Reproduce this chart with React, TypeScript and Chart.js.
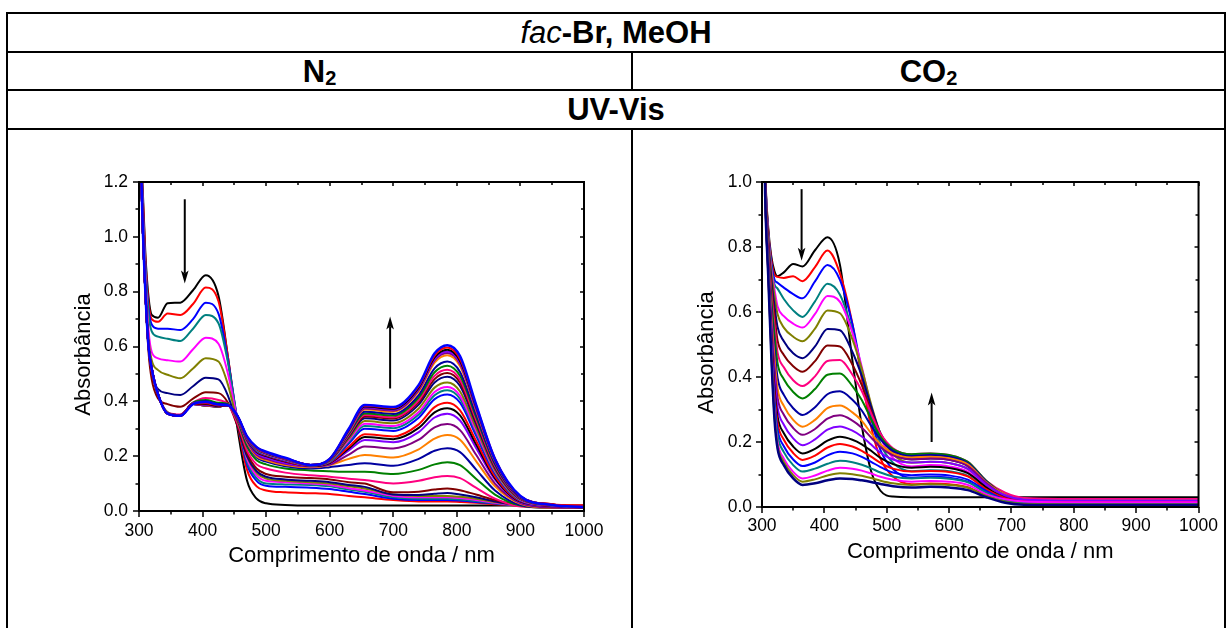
import React, { useEffect, useRef } from "react";
import { Chart, registerables } from "chart.js";

Chart.register(...registerables);

const FONT = "'Liberation Sans', Arial, Helvetica, sans-serif";

// ---------- shared axis ticks ----------
const X_TICKS = [300, 400, 500, 600, 700, 800, 900, 1000];
const N2_Y_TICKS = [0, 0.2, 0.4, 0.6, 0.8, 1.0, 1.2];
const CO2_Y_TICKS = [0, 0.2, 0.4, 0.6, 0.8, 1.0];

// ---------- N2 panel (wavelength / nm) ----------
const N2_WL = [300, 305, 310, 315, 320, 330, 345, 365, 385, 405, 425, 440, 455, 470, 485, 500, 530, 570, 600, 630, 655, 700, 740, 765, 785, 805, 830, 860, 900, 950, 1000];

const N2_01 = [1.6, 1.22, 0.94, 0.78, 0.715, 0.705, 0.758, 0.76, 0.805, 0.86, 0.785, 0.56, 0.30, 0.11, 0.045, 0.028, 0.022, 0.02, 0.02, 0.02, 0.02, 0.02, 0.02, 0.02, 0.02, 0.02, 0.02, 0.02, 0.02, 0.02, 0.02];
const N2_02 = [1.6, 1.2, 0.92, 0.76, 0.70, 0.69, 0.72, 0.715, 0.755, 0.815, 0.765, 0.56, 0.32, 0.15, 0.09, 0.075, 0.068, 0.065, 0.062, 0.055, 0.05, 0.04, 0.035, 0.035, 0.035, 0.033, 0.03, 0.025, 0.02, 0.018, 0.02];
const N2_03 = [1.6, 1.18, 0.9, 0.74, 0.68, 0.665, 0.665, 0.66, 0.70, 0.76, 0.72, 0.55, 0.33, 0.17, 0.11, 0.092, 0.088, 0.085, 0.08, 0.07, 0.062, 0.045, 0.04, 0.04, 0.04, 0.038, 0.033, 0.027, 0.02, 0.015, 0.012];
const N2_04 = [1.6, 1.17, 0.89, 0.72, 0.655, 0.636, 0.628, 0.62, 0.665, 0.715, 0.685, 0.54, 0.33, 0.18, 0.12, 0.10, 0.097, 0.095, 0.09, 0.078, 0.07, 0.05, 0.045, 0.045, 0.045, 0.042, 0.036, 0.028, 0.02, 0.015, 0.012];
const N2_05 = [1.6, 1.15, 0.86, 0.66, 0.58, 0.557, 0.55, 0.545, 0.59, 0.632, 0.61, 0.50, 0.33, 0.19, 0.13, 0.11, 0.105, 0.10, 0.095, 0.083, 0.075, 0.055, 0.05, 0.05, 0.05, 0.047, 0.04, 0.03, 0.02, 0.015, 0.012];
const N2_06 = [1.6, 1.13, 0.84, 0.63, 0.55, 0.514, 0.497, 0.484, 0.52, 0.557, 0.545, 0.46, 0.32, 0.20, 0.14, 0.118, 0.11, 0.105, 0.10, 0.09, 0.082, 0.06, 0.055, 0.055, 0.055, 0.052, 0.045, 0.033, 0.02, 0.014, 0.012];
const N2_07 = [1.6, 1.12, 0.82, 0.60, 0.50, 0.445, 0.43, 0.423, 0.455, 0.486, 0.48, 0.42, 0.31, 0.20, 0.145, 0.125, 0.115, 0.11, 0.105, 0.095, 0.088, 0.06, 0.058, 0.063, 0.066, 0.06, 0.05, 0.035, 0.02, 0.014, 0.012];
const N2_08 = [1.6, 1.1, 0.8, 0.58, 0.48, 0.41, 0.39, 0.38, 0.41, 0.433, 0.43, 0.395, 0.31, 0.21, 0.155, 0.135, 0.125, 0.12, 0.115, 0.105, 0.10, 0.068, 0.07, 0.078, 0.082, 0.076, 0.06, 0.04, 0.02, 0.014, 0.012];
const N2_09 = [1.6, 1.1, 0.8, 0.6, 0.51, 0.425, 0.36, 0.352, 0.395, 0.412, 0.405, 0.39, 0.32, 0.22, 0.17, 0.155, 0.14, 0.13, 0.125, 0.118, 0.113, 0.10, 0.11, 0.123, 0.128, 0.12, 0.085, 0.045, 0.016, 0.012, 0.012];
const N2_10 = [1.6, 1.1, 0.8, 0.6, 0.52, 0.425, 0.36, 0.35, 0.395, 0.405, 0.395, 0.39, 0.33, 0.235, 0.185, 0.17, 0.155, 0.148, 0.145, 0.143, 0.143, 0.135, 0.15, 0.17, 0.178, 0.167, 0.118, 0.06, 0.02, 0.012, 0.012];
const N2_11 = [1.6, 1.1, 0.8, 0.6, 0.52, 0.425, 0.358, 0.35, 0.393, 0.40, 0.39, 0.388, 0.335, 0.245, 0.195, 0.18, 0.163, 0.155, 0.16, 0.168, 0.174, 0.165, 0.19, 0.22, 0.229, 0.215, 0.152, 0.075, 0.022, 0.012, 0.012];
const N2_12 = [1.6, 1.1, 0.8, 0.6, 0.52, 0.425, 0.358, 0.35, 0.392, 0.398, 0.387, 0.387, 0.337, 0.25, 0.20, 0.185, 0.168, 0.16, 0.168, 0.19, 0.204, 0.195, 0.225, 0.264, 0.277, 0.26, 0.183, 0.09, 0.026, 0.012, 0.012];
const N2_13 = [1.6, 1.1, 0.8, 0.6, 0.52, 0.425, 0.357, 0.35, 0.392, 0.396, 0.385, 0.386, 0.338, 0.255, 0.205, 0.19, 0.172, 0.162, 0.169, 0.206, 0.235, 0.228, 0.26, 0.305, 0.317, 0.295, 0.206, 0.10, 0.029, 0.013, 0.012];
const N2_14 = [1.6, 1.1, 0.8, 0.6, 0.52, 0.425, 0.357, 0.35, 0.392, 0.394, 0.384, 0.386, 0.339, 0.258, 0.21, 0.195, 0.175, 0.163, 0.173, 0.221, 0.259, 0.251, 0.288, 0.341, 0.355, 0.33, 0.231, 0.114, 0.032, 0.019, 0.013];
const N2_15 = [1.6, 1.1, 0.8, 0.6, 0.52, 0.425, 0.356, 0.349, 0.391, 0.392, 0.383, 0.386, 0.34, 0.26, 0.215, 0.20, 0.18, 0.164, 0.175, 0.228, 0.27, 0.262, 0.303, 0.36, 0.375, 0.349, 0.244, 0.12, 0.034, 0.019, 0.013];
const N2_16 = [1.6, 1.1, 0.8, 0.6, 0.52, 0.425, 0.356, 0.349, 0.391, 0.39, 0.383, 0.386, 0.341, 0.262, 0.218, 0.203, 0.182, 0.165, 0.177, 0.234, 0.28, 0.272, 0.316, 0.379, 0.395, 0.367, 0.257, 0.126, 0.036, 0.02, 0.014];
const N2_17 = [1.6, 1.1, 0.8, 0.6, 0.52, 0.425, 0.356, 0.348, 0.39, 0.389, 0.382, 0.386, 0.342, 0.263, 0.22, 0.205, 0.184, 0.166, 0.179, 0.246, 0.30, 0.292, 0.34, 0.408, 0.425, 0.395, 0.276, 0.136, 0.038, 0.02, 0.014];
const N2_18 = [1.6, 1.1, 0.8, 0.6, 0.52, 0.425, 0.355, 0.348, 0.39, 0.388, 0.382, 0.386, 0.342, 0.264, 0.222, 0.207, 0.186, 0.166, 0.18, 0.252, 0.31, 0.302, 0.352, 0.422, 0.44, 0.409, 0.286, 0.141, 0.04, 0.02, 0.014];
const N2_19 = [1.6, 1.1, 0.8, 0.6, 0.52, 0.425, 0.355, 0.348, 0.39, 0.387, 0.381, 0.386, 0.343, 0.265, 0.224, 0.208, 0.187, 0.167, 0.182, 0.258, 0.318, 0.31, 0.361, 0.434, 0.452, 0.42, 0.294, 0.145, 0.041, 0.021, 0.014];
const N2_20 = [1.6, 1.1, 0.8, 0.6, 0.52, 0.425, 0.355, 0.347, 0.39, 0.386, 0.381, 0.386, 0.343, 0.266, 0.225, 0.209, 0.188, 0.167, 0.183, 0.264, 0.328, 0.32, 0.374, 0.45, 0.469, 0.436, 0.305, 0.15, 0.042, 0.021, 0.014];
const N2_21 = [1.6, 1.1, 0.8, 0.6, 0.52, 0.425, 0.355, 0.347, 0.39, 0.385, 0.381, 0.386, 0.344, 0.266, 0.226, 0.21, 0.189, 0.167, 0.184, 0.27, 0.338, 0.33, 0.388, 0.469, 0.49, 0.456, 0.319, 0.157, 0.044, 0.022, 0.015];
const N2_22 = [1.6, 1.1, 0.8, 0.6, 0.52, 0.425, 0.355, 0.347, 0.39, 0.385, 0.381, 0.386, 0.344, 0.267, 0.227, 0.211, 0.19, 0.168, 0.186, 0.274, 0.345, 0.337, 0.397, 0.481, 0.503, 0.468, 0.327, 0.161, 0.045, 0.022, 0.015];
const N2_23 = [1.6, 1.1, 0.8, 0.6, 0.52, 0.425, 0.355, 0.347, 0.39, 0.384, 0.381, 0.386, 0.344, 0.267, 0.228, 0.212, 0.19, 0.168, 0.186, 0.277, 0.35, 0.342, 0.404, 0.493, 0.515, 0.479, 0.335, 0.165, 0.046, 0.022, 0.015];
const N2_24 = [1.6, 1.1, 0.8, 0.6, 0.52, 0.425, 0.355, 0.347, 0.39, 0.384, 0.381, 0.386, 0.345, 0.268, 0.229, 0.212, 0.191, 0.168, 0.187, 0.281, 0.356, 0.348, 0.414, 0.506, 0.53, 0.493, 0.345, 0.17, 0.048, 0.023, 0.015];
const N2_25 = [1.6, 1.1, 0.8, 0.6, 0.52, 0.425, 0.355, 0.347, 0.39, 0.384, 0.381, 0.386, 0.345, 0.268, 0.23, 0.213, 0.191, 0.168, 0.187, 0.284, 0.362, 0.354, 0.423, 0.52, 0.545, 0.507, 0.354, 0.174, 0.049, 0.023, 0.015];
const N2_26 = [1.6, 1.1, 0.8, 0.6, 0.52, 0.425, 0.355, 0.347, 0.39, 0.385, 0.382, 0.386, 0.345, 0.269, 0.23, 0.213, 0.192, 0.168, 0.188, 0.288, 0.37, 0.362, 0.436, 0.541, 0.568, 0.528, 0.369, 0.182, 0.051, 0.024, 0.016];
const N2_27 = [1.6, 1.1, 0.8, 0.6, 0.52, 0.425, 0.355, 0.347, 0.39, 0.386, 0.382, 0.386, 0.345, 0.269, 0.231, 0.214, 0.192, 0.168, 0.189, 0.292, 0.374, 0.366, 0.442, 0.549, 0.576, 0.536, 0.374, 0.184, 0.052, 0.024, 0.016];
const N2_28 = [1.6, 1.1, 0.8, 0.6, 0.52, 0.425, 0.355, 0.347, 0.39, 0.388, 0.383, 0.386, 0.346, 0.27, 0.231, 0.214, 0.192, 0.168, 0.189, 0.294, 0.378, 0.37, 0.446, 0.554, 0.582, 0.541, 0.378, 0.186, 0.052, 0.024, 0.016];
const N2_29 = [1.6, 1.1, 0.8, 0.6, 0.52, 0.425, 0.355, 0.347, 0.39, 0.39, 0.384, 0.386, 0.346, 0.27, 0.232, 0.215, 0.193, 0.168, 0.189, 0.296, 0.381, 0.373, 0.45, 0.56, 0.588, 0.547, 0.382, 0.188, 0.053, 0.024, 0.016];
const N2_30 = [1.6, 1.1, 0.8, 0.6, 0.52, 0.425, 0.355, 0.347, 0.39, 0.393, 0.385, 0.386, 0.346, 0.27, 0.232, 0.215, 0.193, 0.168, 0.19, 0.298, 0.384, 0.376, 0.455, 0.567, 0.596, 0.554, 0.387, 0.191, 0.054, 0.025, 0.02];
const N2_31 = [1.6, 1.1, 0.8, 0.6, 0.52, 0.425, 0.355, 0.347, 0.39, 0.398, 0.388, 0.386, 0.347, 0.272, 0.233, 0.216, 0.194, 0.168, 0.19, 0.30, 0.387, 0.379, 0.46, 0.575, 0.605, 0.565, 0.39, 0.19, 0.055, 0.022, 0.015];

// ---------- CO2 panel (wavelength / nm) ----------
const CO2_WL = [300, 305, 310, 315, 320, 325, 335, 350, 365, 385, 405, 425, 445, 460, 475, 490, 510, 540, 570, 600, 630, 660, 690, 720, 800, 900, 1000];

const CO2_01 = [1.6, 1.05, 0.86, 0.77, 0.725, 0.71, 0.722, 0.748, 0.74, 0.79, 0.83, 0.745, 0.45, 0.25, 0.11, 0.05, 0.032, 0.03, 0.03, 0.03, 0.03, 0.03, 0.03, 0.03, 0.03, 0.03, 0.03];
const CO2_02 = [1.6, 1.04, 0.85, 0.76, 0.715, 0.708, 0.705, 0.71, 0.695, 0.738, 0.789, 0.718, 0.563, 0.394, 0.246, 0.149, 0.094, 0.07, 0.072, 0.07, 0.061, 0.035, 0.03, 0.023, 0.022, 0.022, 0.022];
const CO2_03 = [1.6, 1.04, 0.845, 0.75, 0.70, 0.69, 0.675, 0.655, 0.642, 0.694, 0.745, 0.699, 0.562, 0.418, 0.273, 0.175, 0.116, 0.09, 0.093, 0.09, 0.078, 0.045, 0.031, 0.022, 0.02, 0.02, 0.02];
const CO2_04 = [1.6, 1.035, 0.84, 0.74, 0.685, 0.672, 0.64, 0.605, 0.585, 0.633, 0.687, 0.653, 0.541, 0.416, 0.289, 0.194, 0.136, 0.11, 0.113, 0.11, 0.096, 0.055, 0.033, 0.022, 0.02, 0.02, 0.02];
const CO2_05 = [1.6, 1.03, 0.835, 0.73, 0.67, 0.617, 0.587, 0.564, 0.552, 0.594, 0.649, 0.631, 0.536, 0.431, 0.309, 0.215, 0.151, 0.125, 0.129, 0.125, 0.109, 0.063, 0.039, 0.026, 0.024, 0.024, 0.024];
const CO2_06 = [1.6, 1.025, 0.83, 0.72, 0.65, 0.593, 0.552, 0.524, 0.51, 0.549, 0.605, 0.596, 0.516, 0.425, 0.316, 0.225, 0.163, 0.136, 0.139, 0.135, 0.117, 0.068, 0.034, 0.021, 0.018, 0.018, 0.018];
const CO2_07 = [1.6, 1.02, 0.82, 0.70, 0.62, 0.553, 0.51, 0.473, 0.458, 0.494, 0.548, 0.544, 0.477, 0.403, 0.309, 0.227, 0.17, 0.146, 0.149, 0.145, 0.126, 0.073, 0.032, 0.018, 0.015, 0.015, 0.015];
const CO2_08 = [1.6, 1.015, 0.81, 0.68, 0.59, 0.512, 0.468, 0.433, 0.416, 0.449, 0.497, 0.494, 0.438, 0.375, 0.295, 0.225, 0.177, 0.156, 0.16, 0.155, 0.135, 0.078, 0.039, 0.023, 0.02, 0.02, 0.02];
const CO2_09 = [1.6, 1.01, 0.80, 0.66, 0.56, 0.475, 0.43, 0.39, 0.372, 0.402, 0.449, 0.452, 0.407, 0.357, 0.288, 0.226, 0.181, 0.162, 0.165, 0.16, 0.139, 0.08, 0.044, 0.028, 0.025, 0.025, 0.025];
const CO2_10 = [1.6, 1.005, 0.79, 0.64, 0.53, 0.442, 0.393, 0.354, 0.334, 0.363, 0.407, 0.411, 0.372, 0.329, 0.27, 0.216, 0.178, 0.162, 0.165, 0.16, 0.139, 0.08, 0.037, 0.021, 0.018, 0.018, 0.018];
const CO2_11 = [1.6, 1.0, 0.78, 0.61, 0.49, 0.397, 0.345, 0.304, 0.283, 0.307, 0.347, 0.356, 0.33, 0.297, 0.25, 0.208, 0.173, 0.157, 0.16, 0.155, 0.135, 0.078, 0.033, 0.017, 0.014, 0.014, 0.014];
const CO2_12 = [1.6, 0.995, 0.77, 0.59, 0.46, 0.364, 0.311, 0.268, 0.247, 0.268, 0.304, 0.312, 0.291, 0.265, 0.227, 0.193, 0.165, 0.152, 0.155, 0.15, 0.131, 0.075, 0.038, 0.023, 0.02, 0.02, 0.02];
const CO2_13 = [1.6, 0.99, 0.76, 0.57, 0.43, 0.336, 0.284, 0.243, 0.222, 0.24, 0.272, 0.282, 0.266, 0.244, 0.214, 0.184, 0.159, 0.147, 0.149, 0.145, 0.126, 0.073, 0.035, 0.021, 0.018, 0.018, 0.018];
const CO2_14 = [1.6, 0.985, 0.75, 0.55, 0.40, 0.306, 0.253, 0.211, 0.19, 0.208, 0.238, 0.248, 0.235, 0.217, 0.192, 0.167, 0.146, 0.137, 0.139, 0.135, 0.117, 0.068, 0.036, 0.023, 0.02, 0.02, 0.02];
const CO2_15 = [1.6, 0.98, 0.74, 0.53, 0.37, 0.278, 0.227, 0.186, 0.165, 0.179, 0.204, 0.216, 0.207, 0.193, 0.173, 0.151, 0.132, 0.121, 0.124, 0.12, 0.104, 0.06, 0.026, 0.014, 0.012, 0.012, 0.012];
const CO2_16 = [1.6, 0.978, 0.735, 0.51, 0.35, 0.258, 0.207, 0.166, 0.145, 0.158, 0.183, 0.194, 0.186, 0.173, 0.155, 0.136, 0.118, 0.109, 0.111, 0.108, 0.094, 0.054, 0.027, 0.016, 0.014, 0.014, 0.014];
const CO2_17 = [1.6, 0.975, 0.73, 0.50, 0.33, 0.238, 0.187, 0.146, 0.126, 0.137, 0.159, 0.17, 0.165, 0.154, 0.139, 0.123, 0.106, 0.098, 0.10, 0.097, 0.084, 0.049, 0.022, 0.012, 0.01, 0.01, 0.01];
const CO2_18 = [1.6, 0.972, 0.725, 0.49, 0.31, 0.22, 0.169, 0.129, 0.109, 0.118, 0.133, 0.142, 0.138, 0.13, 0.119, 0.106, 0.094, 0.088, 0.09, 0.087, 0.076, 0.044, 0.02, 0.012, 0.01, 0.01, 0.01];
const CO2_19 = [1.6, 0.97, 0.72, 0.48, 0.29, 0.199, 0.149, 0.108, 0.088, 0.097, 0.112, 0.121, 0.118, 0.112, 0.103, 0.093, 0.084, 0.078, 0.08, 0.078, 0.068, 0.039, 0.024, 0.017, 0.015, 0.015, 0.015];
const CO2_20 = [1.6, 0.968, 0.715, 0.47, 0.28, 0.189, 0.139, 0.098, 0.078, 0.085, 0.097, 0.104, 0.101, 0.096, 0.089, 0.081, 0.073, 0.068, 0.07, 0.068, 0.059, 0.034, 0.016, 0.009, 0.008, 0.008, 0.008];
const CO2_21 = [1.6, 0.965, 0.71, 0.46, 0.27, 0.179, 0.129, 0.088, 0.068, 0.073, 0.082, 0.088, 0.086, 0.082, 0.077, 0.071, 0.064, 0.06, 0.062, 0.06, 0.052, 0.03, 0.013, 0.007, 0.006, 0.006, 0.006];

// arrows (wavelength, from absorbance, to absorbance = tip)
const N2_ARROWS = [
  { x: 372, from: 1.137, to: 0.83 },
  { x: 695, from: 0.447, to: 0.709 },
];
const CO2_ARROWS = [
  { x: 363.5, from: 0.978, to: 0.758 },
  { x: 572, from: 0.2, to: 0.352 },
];

const N2_SERIES = [N2_01, N2_02, N2_03, N2_04, N2_05, N2_06, N2_07, N2_08, N2_09, N2_10, N2_11, N2_12, N2_13, N2_14, N2_15, N2_16, N2_17, N2_18, N2_19, N2_20, N2_21, N2_22, N2_23, N2_24, N2_25, N2_26, N2_27, N2_28, N2_29, N2_30, N2_31];
const CO2_SERIES = [CO2_01, CO2_02, CO2_03, CO2_04, CO2_05, CO2_06, CO2_07, CO2_08, CO2_09, CO2_10, CO2_11, CO2_12, CO2_13, CO2_14, CO2_15, CO2_16, CO2_17, CO2_18, CO2_19, CO2_20, CO2_21];

// Origin-like colour cycle
const PALETTE = ["#000000", "#FF0000", "#0000FF", "#008080", "#FF00FF", "#808000", "#000080", "#800000", "#FF0080", "#008000", "#0000A0", "#FF8000", "#800080", "#8000FF"];

type Arrow = { x: number; from: number; to: number };

function buildDatasets(wl: number[], series: number[][]) {
  const n = series.length;
  return series.map((vals, i) => ({
    data: wl.map((x, j) => ({ x, y: vals[j] })),
    borderColor: PALETTE[i % PALETTE.length],
    backgroundColor: PALETTE[i % PALETTE.length],
    borderWidth: i === n - 1 ? 2.5 : 2,
    pointRadius: 0,
    cubicInterpolationMode: "monotone" as const,
    fill: false,
    order: n - i,
  }));
}

function decorPlugin(xTicks: number[], yTicks: number[], arrows: Arrow[]) {
  return {
    id: "decor",
    afterDatasetsDraw(chart: any) {
      const { ctx, chartArea: a, scales } = chart;
      const xs = scales.x;
      const ys = scales.y;
      const xMinor = xTicks.slice(0, -1).map((v, i) => (v + xTicks[i + 1]) / 2);
      const yMinor = yTicks.slice(0, -1).map((v, i) => (v + yTicks[i + 1]) / 2);
      ctx.save();
      ctx.strokeStyle = "#000";
      ctx.fillStyle = "#000";
      ctx.lineWidth = 1.5;
      ctx.beginPath();
      xTicks.forEach((v) => {
        const px = Math.round(xs.getPixelForValue(v));
        ctx.moveTo(px, a.bottom);
        ctx.lineTo(px, a.bottom + 6);
        ctx.moveTo(px, a.top);
        ctx.lineTo(px, a.top + 4);
      });
      xMinor.forEach((v) => {
        const px = Math.round(xs.getPixelForValue(v));
        ctx.moveTo(px, a.bottom);
        ctx.lineTo(px, a.bottom + 3.5);
        ctx.moveTo(px, a.top);
        ctx.lineTo(px, a.top + 3);
      });
      yTicks.forEach((v) => {
        const py = Math.round(ys.getPixelForValue(v));
        ctx.moveTo(a.left, py);
        ctx.lineTo(a.left - 6, py);
        ctx.moveTo(a.right, py);
        ctx.lineTo(a.right - 4, py);
      });
      yMinor.forEach((v) => {
        const py = Math.round(ys.getPixelForValue(v));
        ctx.moveTo(a.left, py);
        ctx.lineTo(a.left - 3.5, py);
        ctx.moveTo(a.right, py);
        ctx.lineTo(a.right - 3, py);
      });
      ctx.stroke();

      ctx.lineWidth = 2;
      ctx.strokeRect(a.left, a.top, a.right - a.left, a.bottom - a.top);

      arrows.forEach((ar) => {
        const px = xs.getPixelForValue(ar.x);
        const p0 = ys.getPixelForValue(ar.from);
        const p1 = ys.getPixelForValue(ar.to);
        const dir = p1 > p0 ? 1 : -1;
        const head = 13;
        ctx.lineWidth = 2;
        ctx.beginPath();
        ctx.moveTo(px, p0);
        ctx.lineTo(px, p1 - dir * (head - 3));
        ctx.stroke();
        ctx.beginPath();
        ctx.moveTo(px, p1);
        ctx.lineTo(px - 3.8, p1 - dir * head);
        ctx.lineTo(px, p1 - dir * (head - 3));
        ctx.lineTo(px + 3.8, p1 - dir * head);
        ctx.closePath();
        ctx.fill();
      });

      ctx.font = `22px ${FONT}`;
      ctx.textAlign = "center";
      ctx.textBaseline = "middle";
      ctx.fillText("Comprimento de onda / nm", (a.left + a.right) / 2, a.bottom + 45);
      ctx.translate(a.left - 55.5, (a.top + a.bottom) / 2 + 8);
      ctx.rotate(-Math.PI / 2);
      ctx.fillText("Absorbância", 0, 0);
      ctx.restore();
    },
  };
}

type PanelProps = {
  left: number;
  top: number;
  width: number;
  height: number;
  wl: number[];
  series: number[][];
  yMax: number;
  yTicks: number[];
  arrows: Arrow[];
  padding: { left: number; right: number; top: number; bottom: number };
  xLabelPad: number;
  yLabelPad: number;
};

function SpectraPanel(p: PanelProps) {
  const ref = useRef<HTMLCanvasElement | null>(null);
  useEffect(() => {
    if (!ref.current) return;
    const tickFont = { family: FONT, size: 17.5 };
    const chart = new Chart(ref.current, {
      type: "line",
      data: { datasets: buildDatasets(p.wl, p.series) as any },
      options: {
        animation: false,
        responsive: false,
        maintainAspectRatio: false,
        events: [],
        layout: { padding: p.padding },
        plugins: { legend: { display: false }, tooltip: { enabled: false }, title: { display: false } },
        scales: {
          x: {
            type: "linear",
            min: 300,
            max: 1000,
            grid: { display: false, drawTicks: false },
            border: { display: false },
            ticks: {
              font: tickFont,
              color: "#000",
              padding: p.xLabelPad,
              maxRotation: 0,
              autoSkip: false,
              callback: (v: any) => String(v),
            },
            afterBuildTicks: (s: any) => {
              s.ticks = X_TICKS.map((value) => ({ value }));
            },
            afterFit: (s: any) => {
              s.height = 60;
            },
          },
          y: {
            type: "linear",
            min: 0,
            max: p.yMax,
            grid: { display: false, drawTicks: false },
            border: { display: false },
            ticks: {
              font: tickFont,
              color: "#000",
              padding: p.yLabelPad,
              autoSkip: false,
              callback: (v: any) => Number(v).toFixed(1),
            },
            afterBuildTicks: (s: any) => {
              s.ticks = p.yTicks.map((value) => ({ value }));
            },
            afterFit: (s: any) => {
              s.width = 60;
            },
          },
        },
      } as any,
      plugins: [decorPlugin(X_TICKS, p.yTicks, p.arrows)],
    });
    return () => chart.destroy();
  }, []);
  return (
    <canvas
      ref={ref}
      width={p.width}
      height={p.height}
      style={{ position: "absolute", left: p.left, top: p.top, width: p.width, height: p.height }}
    />
  );
}

function Line({ x, y, w, h }: { x: number; y: number; w: number; h: number }) {
  return <div style={{ position: "absolute", left: x, top: y, width: w, height: h, background: "#000" }} />;
}

const cellText: React.CSSProperties = {
  position: "absolute",
  display: "flex",
  alignItems: "center",
  justifyContent: "center",
  fontFamily: FONT,
  fontWeight: "bold",
  fontSize: 31,
  lineHeight: "31px",
  color: "#000",
  whiteSpace: "nowrap",
};

const sub: React.CSSProperties = { fontSize: 20, position: "relative", top: 7 };

export default function App() {
  return (
    <div style={{ position: "fixed", left: 0, top: 0, width: 1227, height: 628, background: "#fff", overflow: "hidden" }}>
      <SpectraPanel
        left={8}
        top={131}
        width={622}
        height={497}
        wl={N2_WL}
        series={N2_SERIES}
        yMax={1.2}
        yTicks={N2_Y_TICKS}
        arrows={N2_ARROWS}
        padding={{ left: 71, right: 46, top: 51, bottom: 57 }}
        xLabelPad={10}
        yLabelPad={11}
      />
      <SpectraPanel
        left={633}
        top={131}
        width={594}
        height={497}
        wl={CO2_WL}
        series={CO2_SERIES}
        yMax={1.0}
        yTicks={CO2_Y_TICKS}
        arrows={CO2_ARROWS}
        padding={{ left: 69, right: 21, top: 51, bottom: 61 }}
        xLabelPad={9}
        yLabelPad={10}
      />

      <div style={{ ...cellText, left: 8, top: 14, width: 1216, height: 37 }}>
        <span style={{ fontStyle: "italic", fontWeight: "normal" }}>fac</span>
        <span>-Br, MeOH</span>
      </div>
      <div style={{ ...cellText, left: 8, top: 53, width: 623, height: 36 }}>
        <span>N</span>
        <span style={sub}>2</span>
      </div>
      <div style={{ ...cellText, left: 633, top: 53, width: 591, height: 36 }}>
        <span>CO</span>
        <span style={sub}>2</span>
      </div>
      <div style={{ ...cellText, left: 8, top: 91, width: 1216, height: 37 }}>UV-Vis</div>

      <Line x={6} y={12} w={1220} h={2} />
      <Line x={6} y={12} w={2} h={616} />
      <Line x={1224} y={12} w={2} h={616} />
      <Line x={6} y={51} w={1220} h={2} />
      <Line x={6} y={89} w={1220} h={2} />
      <Line x={6} y={128} w={1220} h={2} />
      <Line x={631} y={51} w={2} h={40} />
      <Line x={631} y={128} w={2} h={500} />
    </div>
  );
}
